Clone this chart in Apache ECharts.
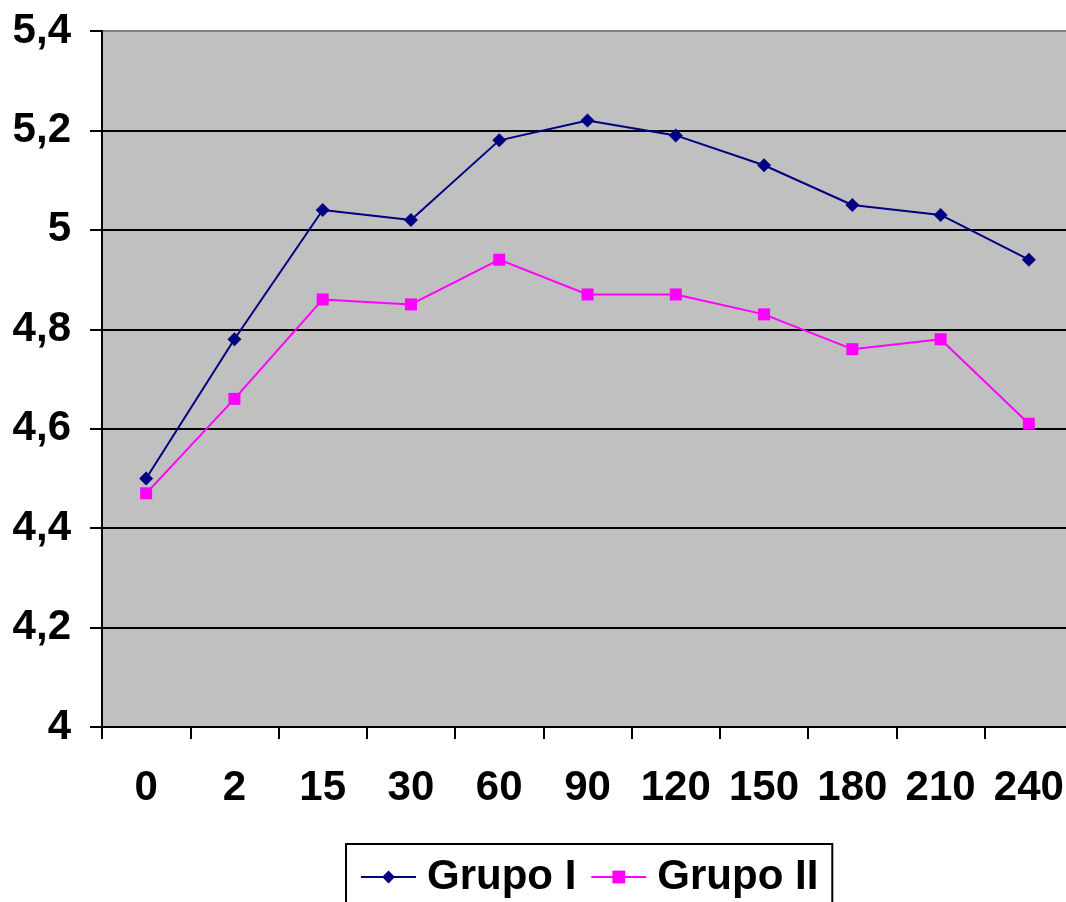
<!DOCTYPE html>
<html>
<head>
<meta charset="utf-8">
<script src="https://cdn.jsdelivr.net/npm/echarts@6/dist/echarts.min.js"></script>
<style>
  html, body { margin: 0; padding: 0; background: #fff; }
  #chart { width: 1066px; height: 902px; }
</style>
</head>
<body>
<div id="chart"></div>
<script>
// time points (min)
const categories = ['0', '2', '15', '30', '60', '90', '120', '150', '180', '210', '240']
const grupoI = [4.5, 4.78, 5.04, 5.02, 5.18, 5.22, 5.19, 5.13, 5.05, 5.03, 4.94]
const grupoII = [4.47, 4.66, 4.86, 4.85, 4.94, 4.87, 4.87, 4.83, 4.76, 4.78, 4.61]

const font = 'Liberation Sans, Arial, sans-serif'

const chart = echarts.init(document.getElementById('chart'))
chart.setOption({
  animation: false,
  grid: {
    left: 102,
    width: 971,
    top: 31,
    height: 696,
    containLabel: false,
    outerBoundsMode: 'none',
    show: true,
    backgroundColor: '#c0c0c0',
    borderWidth: 0
  },
  legend: {
    left: 346,
    top: 844,
    padding: [12, 14, 20, 14],
    borderColor: '#000',
    borderWidth: 2,
    itemWidth: 55,
    itemHeight: 16,
    itemGap: 14,
    textStyle: { fontFamily: font, fontSize: 42, fontWeight: 'bold', color: '#000', padding: [0, 0, 0, 6] },
    data: ['Grupo I', 'Grupo II']
  },
  xAxis: {
    type: 'category',
    data: categories,
    boundaryGap: true,
    axisLine: { lineStyle: { color: '#000', width: 2 } },
    axisTick: { show: true, length: 12, alignWithLabel: false, lineStyle: { color: '#000', width: 2 } },
    axisLabel: { margin: 40, fontFamily: font, fontSize: 42, fontWeight: 'bold', color: '#000', interval: 0 },
    splitLine: { show: false }
  },
  yAxis: {
    type: 'value',
    min: 4,
    max: 5.4,
    interval: 0.2,
    axisLine: { show: true, lineStyle: { color: '#000', width: 2 } },
    axisTick: { show: true, length: 12, lineStyle: { color: '#000', width: 2 } },
    axisLabel: {
      margin: 31,
      fontFamily: font,
      fontSize: 42,
      fontWeight: 'bold',
      color: '#000',
      formatter: function (v) {
        return String(Math.round(v * 10) / 10).replace('.', ',')
      }
    },
    splitLine: {
      show: true,
      lineStyle: {
        color: ['#000', '#000', '#000', '#000', '#000', '#000', '#000', '#808080'],
        width: 2
      }
    }
  },
  series: [
    {
      name: 'Grupo I',
      type: 'line',
      data: grupoI,
      symbol: 'diamond',
      symbolSize: 14,
      color: '#000080',
      lineStyle: { color: '#000080', width: 2 },
      itemStyle: { color: '#000080' }
    },
    {
      name: 'Grupo II',
      type: 'line',
      data: grupoII,
      symbol: 'rect',
      symbolSize: 12,
      color: '#ff00ff',
      lineStyle: { color: '#ff00ff', width: 2 },
      itemStyle: { color: '#ff00ff' }
    }
  ]
})
</script>
</body>
</html>
